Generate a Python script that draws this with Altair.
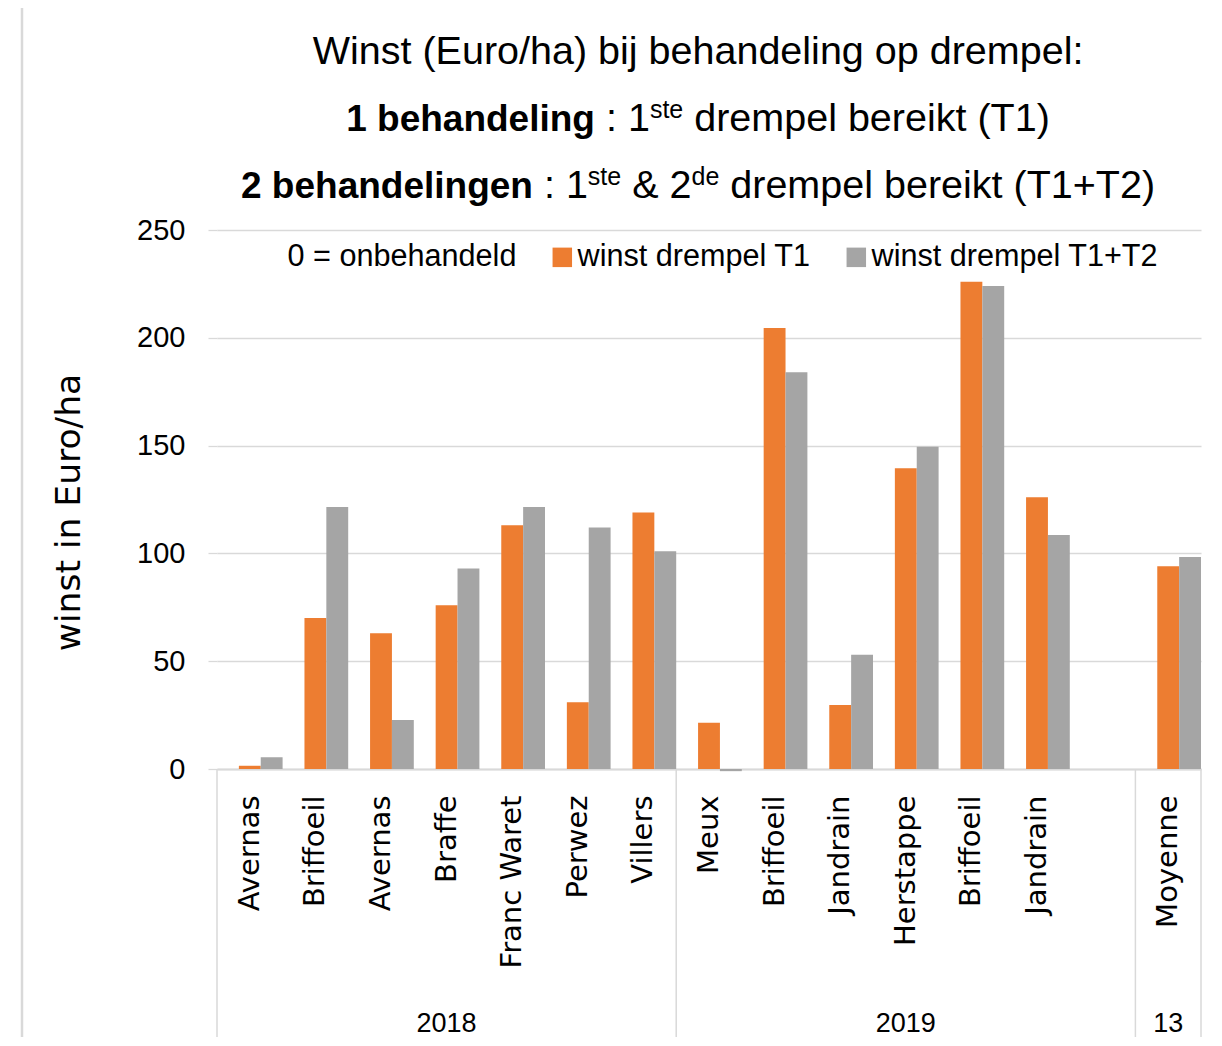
import altair as alt
import pandas as pd

# ---------------- data ----------------
categories = ["Avernas", "Briffoeil", "Avernas", "Braffe", "Franc Waret", "Perwez", "Villers",
              "Meux", "Briffoeil", "Jandrain", "Herstappe", "Briffoeil", "Jandrain", "",
              "Moyenne"]
groups = ["2018", "2018", "2018", "2018", "2018", "2018", "2018",
          "2019", "2019", "2019", "2019", "2019", "2019", "2019",
          "13"]
onbehandeld = [0, 0, 0, 0, 0, 0, 0, 0, 0, 0, 0, 0, 0, None, 0]
winst_t1 = [1.5, 70, 63, 76, 113, 31, 119, 21.5, 204.5, 29.7, 139.5, 226, 126, None, 94]
winst_t12 = [5.5, 121.5, 22.7, 93, 121.5, 112, 101, -1, 184, 53, 149.5, 224, 108.5, None, 98.3]
series = ["0 = onbehandeld", "winst drempel T1", "winst drempel T1+T2"]
colors = ["rgba(0,0,0,0)", "#ED7D31", "#A5A5A5"]
group_labels = ["2018", "2019", "13"]
group_mid_slot = [3, 10, 14]
y_ticks = [0, 50, 100, 150, 200, 250]

NARROW = "Liberation Sans, Arial, sans-serif"
WIDE = "DejaVu Sans, Verdana, sans-serif"
GRID = "#D9D9D9"

W, H = 984, 539

keys = [f"{i:02d}|{c}" for i, c in enumerate(categories)]

rows = []
for i, k in enumerate(keys):
    for s, vals in zip(series, [onbehandeld, winst_t1, winst_t12]):
        if vals[i] is not None:
            rows.append({"key": k, "series": s, "value": vals[i]})
df = pd.DataFrame(rows)

xscale = alt.Scale(domain=keys, paddingInner=0, paddingOuter=0)
x_axis = alt.Axis(labelExpr="split(datum.value, '|')[1]", labelAngle=-90,
                  labelFont=WIDE, labelFontSize=29, labelColor="black",
                  labelPadding=26, ticks=False, tickSize=0, labelLimit=400,
                  domainColor=GRID, domainWidth=2, grid=False, title=None)

bars = alt.Chart(df).mark_bar().encode(
    x=alt.X("key:N", scale=xscale, axis=x_axis),
    xOffset=alt.XOffset("series:N", scale=alt.Scale(domain=series, paddingInner=0, paddingOuter=0)),
    y=alt.Y("value:Q", scale=alt.Scale(domain=[0, 250], nice=False),
            axis=alt.Axis(values=y_ticks, title="winst in Euro/ha", titleFont=WIDE,
                          titleFontSize=34.5, titleFontWeight="normal", titleColor="black",
                          titleX=-138, titleY=282, titleBaseline="alphabetic",
                          labelFont=NARROW, labelFontSize=29, labelColor="black",
                          labelPadding=23, tickSize=9, tickColor=GRID, tickWidth=1.3,
                          domain=False, gridColor=GRID, gridWidth=1.3)),
    color=alt.Color("series:N", scale=alt.Scale(domain=series, range=colors),
                    legend=alt.Legend(orient="none", legendX=40, legendY=12,
                                      direction="horizontal", title=None,
                                      symbolType="square", symbolSize=380,
                                      symbolStrokeWidth=0, labelFont=NARROW,
                                      labelFontSize=30.6, labelColor="black",
                                      columnPadding=30, labelOffset=0, padding=0,
                                      labelLimit=500)),
)

gdf = pd.DataFrame({"key": [keys[i] for i in group_mid_slot], "label": group_labels})
group_text = alt.Chart(gdf).mark_text(font=NARROW, fontSize=27, color="black",
                                      baseline="middle", align="center").encode(
    x=alt.X("key:N", scale=xscale, axis=x_axis),
    y=alt.value(794),
    text="label:N",
)

one = pd.DataFrame({"a": [0]})


def vrule(px, y1, y2, width=1.5):
    return alt.Chart(one).mark_rule(color=GRID, strokeWidth=width).encode(
        x=alt.value(px), y=alt.value(y1), y2=alt.value(y2))


def hrule(py, x1, x2, width=2):
    return alt.Chart(one).mark_rule(color=GRID, strokeWidth=width).encode(
        y=alt.value(py), x=alt.value(x1), x2=alt.value(x2))


step = W / len(keys)
seps = [vrule(0, H, 840), vrule(7 * step, H, 840), vrule(14 * step, H, 840), vrule(W, H, 840),
        vrule(-195, -225, 840, 2.5), hrule(-225, -195, 1100, 2.5)]

# ---------------- title (rich text) ----------------
REG = {" ": 278, "(": 333, ")": 333, "/": 278, ":": 278, "&": 667, "+": 584, "=": 584,
       "0": 556, "1": 556, "2": 556, "E": 667, "T": 611, "W": 944,
       "a": 556, "b": 556, "c": 500, "d": 556, "e": 556, "g": 556, "h": 556, "i": 222,
       "j": 222, "k": 500, "l": 222, "m": 833, "n": 556, "o": 556, "p": 556, "r": 333,
       "s": 500, "t": 278, "u": 556, "w": 722}
BOLD = {" ": 278, "1": 556, "2": 556, "b": 611, "e": 556, "h": 611, "a": 556, "n": 611,
        "d": 611, "l": 278, "i": 278, "g": 611}
TS = 39.5
BS = 37
SUP = 25
SUP_RISE = 13


def tw(s, bold, size):
    tab = BOLD if bold else REG
    return sum(tab.get(c, 556) for c in s) / 1000 * size


def psize(b, s):
    return SUP if s else (BS if b else TS)


title_lines = [
    ([("Winst (Euro/ha) bij behandeling op drempel:", False, False)], -166),
    ([("1 behandeling", True, False), (" : 1", False, False), ("ste", False, True),
      (" drempel bereikt (T1)", False, False)], -99),
    ([("2 behandelingen", True, False), (" : 1", False, False), ("ste", False, True),
      (" & 2", False, False), ("de", False, True),
      (" drempel bereikt (T1+T2)", False, False)], -32),
]
CENTER = 698 - 217

title_layers = []
for pieces, base in title_lines:
    widths = [tw(t, b, psize(b, s)) for t, b, s in pieces]
    cur = CENTER - sum(widths) / 2
    for (t, b, s), w in zip(pieces, widths):
        size = psize(b, s)
        lead = len(t) - len(t.lstrip(" "))
        x0 = cur + tw(" " * lead, b, size)
        title_layers.append(
            alt.Chart(pd.DataFrame({"t": [t.strip()]})).mark_text(
                font=NARROW, fontSize=size, fontWeight="bold" if b else "normal",
                color="black", align="left", baseline="alphabetic").encode(
                x=alt.value(x0), y=alt.value(base - (SUP_RISE if s else 0)), text="t:N"))
        cur += w

chart = alt.layer(bars, group_text, *seps, *title_layers).properties(
    width=W, height=H,
    padding={"left": 209, "top": 222, "right": 12, "bottom": 268},
    autosize=alt.AutoSizeParams(type="none"),
).configure_view(strokeWidth=0)

chart.save("out.html", embed_options={"renderer": "svg", "actions": False})
